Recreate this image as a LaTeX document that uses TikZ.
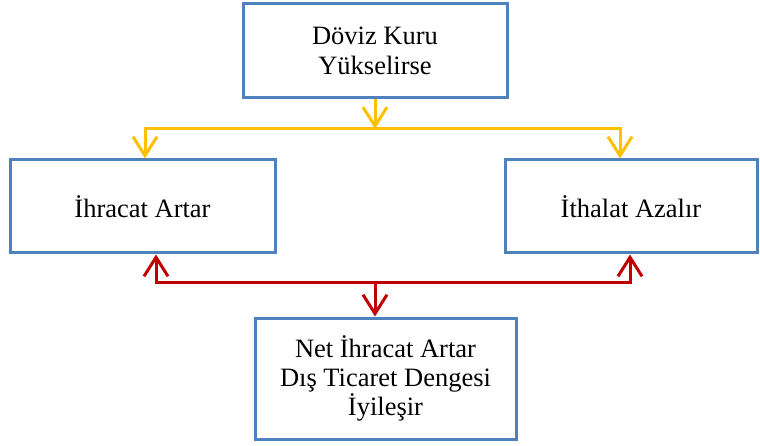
\documentclass[tikz,border=0pt]{standalone}
\usepackage{fontspec}
\setmainfont{Liberation Serif}
\usetikzlibrary{arrows.meta}
\definecolor{boxblue}{HTML}{4F81BD}
\definecolor{yel}{HTML}{FFC000}
\definecolor{darkred}{HTML}{C00000}
\begin{document}
\begin{tikzpicture}[x=1pt,y=-1pt,
  >={Straight Barb[length=19pt,width=24pt]},
  box/.style={draw=boxblue,line width=3pt,inner sep=0pt,align=center,
    font=\fontsize{26.5}{30}\selectfont},
  yline/.style={draw=yel,line width=3pt},
  rline/.style={draw=darkred,line width=3pt}]
\useasboundingbox (0,0) rectangle (760,446);
\node[box,minimum width=264pt,minimum height=94pt] (top) at (375,51) {Döviz Kuru\\Yükselirse};
\node[box,minimum width=265pt,minimum height=93pt] (left) at (142.5,206.5) {İhracat Artar};
\node[box,minimum width=252pt,minimum height=93pt] (right) at (631,206.5) {İthalat Azalır};
\node[box,minimum width=261pt,minimum height=121pt,font=\fontsize{26.5}{29}\selectfont] (bottom) at (385.5,378.5) {Net İhracat Artar\\Dış Ticaret Dengesi\\İyileşir};
% yellow connectors
\coordinate (ym) at (375,129);
\coordinate (yl) at (145,129);
\coordinate (yr) at (620,129);
\draw[yline,->] (top.south -| ym) -- (ym);
\draw[yline,<->] (yl |- left.north) -- (yl) -- (yr) -- (yr |- right.north);
% red connectors
\coordinate (rm) at (375,283);
\coordinate (rl) at (156,283);
\coordinate (rr) at (630,283);
\draw[rline,<->] (rl |- left.south) -- (rl) -- (rr) -- (rr |- right.south);
\draw[rline,->] (rm) -- (rm |- bottom.north);
\end{tikzpicture}
\end{document}
